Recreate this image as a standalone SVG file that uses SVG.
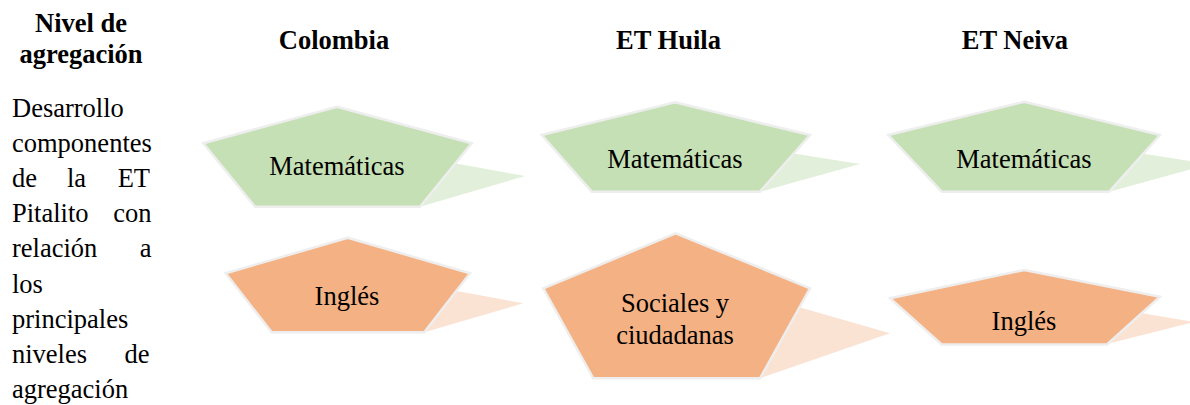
<svg xmlns="http://www.w3.org/2000/svg" width="1190" height="405" viewBox="0 0 1190 405">
<style>
.t{font-family:'Liberation Serif','Times New Roman',Times,serif;fill:#000}
.hd{font-size:26.5px;font-weight:bold;text-anchor:middle}
.body{font-size:26.5px}
.r{text-anchor:end}
.lbl{font-size:26.5px;text-anchor:middle}
.g{fill:#C5E0B4;stroke:#EEEEEE;stroke-width:2.5}
.o{fill:#F4B183;stroke:#EEEEEE;stroke-width:2.5}
.gs{fill:#E2EFDA}
.os{fill:#FBE3D4}
</style>
<rect width="1190" height="405" fill="#FFFFFF"/>
<g id="headers">
<text class="t hd" x="81" y="32">Nivel de</text>
<text class="t hd" x="81" y="63">agregación</text>
<text class="t hd" x="334" y="49">Colombia</text>
<text class="t hd" x="668.5" y="49">ET Huila</text>
<text class="t hd" x="1015" y="49">ET Neiva</text>
</g>
<g id="description">
<text class="t body" x="12" y="117">Desarrollo</text>
<text class="t body" x="12" y="152.1">componentes</text>
<text class="t body" x="12" y="187.2">de</text>
<text class="t body" x="67" y="187.2">la</text>
<text class="t body r" x="150" y="187.2">ET</text>
<text class="t body" x="12" y="222.3">Pitalito</text>
<text class="t body r" x="151.5" y="222.3">con</text>
<text class="t body" x="12" y="257.4">relación</text>
<text class="t body r" x="151.5" y="257.4">a</text>
<text class="t body" x="12" y="292.5">los</text>
<text class="t body" x="12" y="327.6">principales</text>
<text class="t body" x="12" y="362.7">niveles</text>
<text class="t body r" x="149.5" y="362.7">de</text>
<text class="t body" x="12" y="397.5">agregación</text>
</g>
<g id="colombia-matematicas">
<polygon class="gs" points="400,153.5 525,176 420,206.7 400,206.7"/>
<polygon class="g" points="337,106.7 471.7,143.3 420,206.7 255,206.7 203.3,143.3"/>
<text class="t lbl" x="337" y="175">Matemáticas</text>
</g>
<g id="colombia-ingles">
<polygon class="os" points="410,282.5 523.3,303.3 424.3,332.3 410,332.3"/>
<polygon class="o" points="347.7,237.7 470,273.3 424.3,332.3 271.7,332.3 225.7,273.3"/>
<text class="t lbl" x="347" y="305">Inglés</text>
</g>
<g id="huila-matematicas">
<polygon class="gs" points="740,145 860,164 760,191.7 740,191.7"/>
<polygon class="g" points="675,102.3 810,135 760,191.7 591.7,191.7 541.7,135"/>
<text class="t lbl" x="675" y="168">Matemáticas</text>
</g>
<g id="huila-sociales">
<polygon class="os" points="740,290.2 890,333.3 760,378.3 740,378.3"/>
<polygon class="o" points="675.7,233.3 810,288.3 760,378.3 593.3,378.3 543.3,288.3"/>
<text class="t lbl" x="675" y="311.5">Sociales y</text>
<text class="t lbl" x="675" y="343.5">ciudadanas</text>
</g>
<g id="neiva-matematicas">
<polygon class="gs" points="1090,145.6 1210,164 1109.3,191.7 1090,191.7"/>
<polygon class="g" points="1024.3,101.7 1160,135 1109.3,191.7 941.7,191.7 888.3,135"/>
<text class="t lbl" x="1024" y="168">Matemáticas</text>
</g>
<g id="neiva-ingles">
<polygon class="os" points="1090,304.5 1194,322 1107,344 1090,344"/>
<polygon class="o" points="1024.3,270 1160,296.7 1107,344.5 941.7,344.5 890,298.3"/>
<text class="t lbl" x="1024" y="330">Inglés</text>
</g>
<g id="connectors"/>
</svg>
